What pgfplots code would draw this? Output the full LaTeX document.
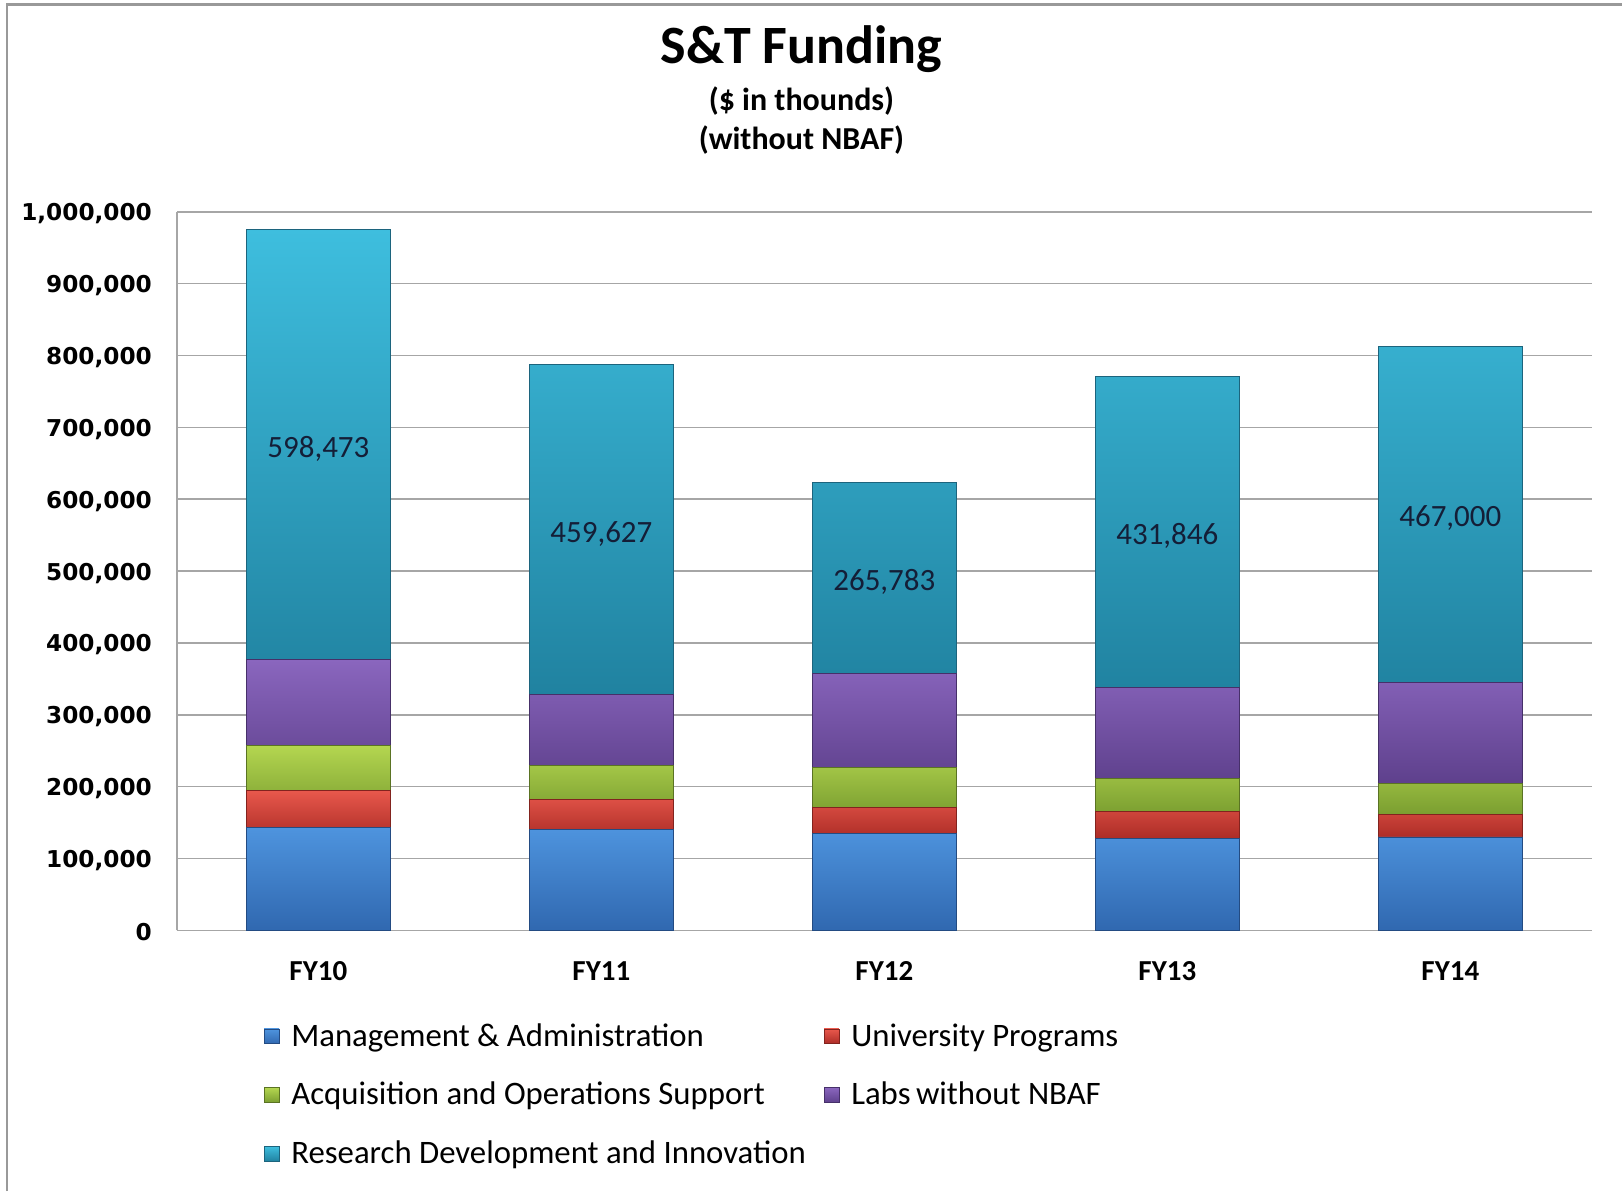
\documentclass[border=0pt]{standalone}
\usepackage{pgfplots}
\pgfplotsset{compat=1.18}
\usepackage{fontspec}
\setmainfont{Carlito}
\newfontfamily\tickfont{DejaVu Sans}
\definecolor{bluT}{RGB}{78,148,222}\definecolor{bluB}{RGB}{48,104,176}\definecolor{bluD}{RGB}{35,75,130}
\definecolor{redT}{RGB}{232,88,76}\definecolor{redB}{RGB}{172,44,38}\definecolor{redD}{RGB}{130,35,30}
\definecolor{grnT}{RGB}{180,214,80}\definecolor{grnB}{RGB}{122,158,48}\definecolor{grnD}{RGB}{90,115,35}
\definecolor{purT}{RGB}{138,102,190}\definecolor{purB}{RGB}{94,64,140}\definecolor{purD}{RGB}{70,48,105}
\definecolor{cyaT}{RGB}{62,190,222}\definecolor{cyaB}{RGB}{32,130,160}\definecolor{cyaD}{RGB}{28,100,125}
\definecolor{lbl}{RGB}{20,30,55}
\begin{document}
\begin{tikzpicture}
\path (0,0) rectangle (811.5pt,-596pt);
\draw[gray!80, line width=1.2pt] (3.6pt,-596pt) -- (3.6pt,-2.2pt) -- (811.5pt,-2.2pt);
\node[font=\bfseries\fontsize{27}{30}\selectfont] at (401pt,-24.5pt) {S\&T Funding};
\node[font=\bfseries\fontsize{16}{18}\selectfont] at (401pt,-50.5pt) {(\$ in thounds)};
\node[font=\bfseries\fontsize{16}{18}\selectfont] at (401pt,-70pt) {(without NBAF)};
\begin{axis}[
  at={(88.5pt,-465.5pt)}, anchor=south west,
  scale only axis, width=708pt, height=359.5pt,
  ybar stacked, bar width=0.51,
  xmin=-0.5, xmax=4.5, ymin=0, ymax=1000000,
  xtick={0,1,2,3,4}, xticklabels={FY10,FY11,FY12,FY13,FY14},
  ytick distance=100000,
  scaled y ticks=false,
  yticklabel style={/pgf/number format/fixed, /pgf/number format/1000 sep={,}, /pgf/number format/assume math mode=true,
     font=\tickfont\bfseries\fontsize{11.6}{13}\selectfont, xshift=-9pt, yshift=-1pt},
  xticklabel style={font=\bfseries\fontsize{14.5}{17}\selectfont, yshift=-12pt},
  axis x line*=bottom, axis y line*=left,
  axis line style={gray!70, line width=0.8pt, -},
  major tick length=0pt,
  ymajorgrids, grid style={gray!70, line width=0.8pt},
  legend columns=2,
  legend cell align=left,
  legend style={at={(axis description cs:0.057,-0.118)}, anchor=north west, draw=none, fill=none,
     font=\fontsize{16.4}{19}\selectfont, row sep=12.5pt,
     /tikz/every odd column/.append style={column sep=4pt},
     /tikz/every even column/.append style={column sep=7pt}},
  legend image code/.code={\draw[#1, line width=0.3pt] (0pt,-3.7pt) rectangle (7.4pt,3.7pt);},
]
\addplot[top color=bluT, bottom color=bluB, draw=bluD] coordinates {(0,143800) (1,140500) (2,134500) (3,127500) (4,129900)};
\addlegendentry{Management \& Administration}
\addplot[top color=redT, bottom color=redB, draw=redD] coordinates {(0,50900) (1,41700) (2,37100) (3,38500) (4,31100)};
\addlegendentry{University Programs}
\addplot[top color=grnT, bottom color=grnB, draw=grnD] coordinates {(0,62600) (1,47300) (2,54700) (3,45000) (4,43000)};
\addlegendentry{Acquisition and Operations Support}
\addplot[top color=purT, bottom color=purB, draw=purD] coordinates {(0,119200) (1,98300) (2,130700) (3,127500) (4,141500)};
\addlegendentry{Labs\,without NBAF}
\addplot[top color=cyaT, bottom color=cyaB, draw=cyaD] coordinates {(0,598473) (1,459627) (2,265783) (3,431846) (4,467000)};
\addlegendentry{Research Development and Innovation}
\coordinate (L0) at (axis cs:0,675736);
\coordinate (L1) at (axis cs:1,557600);
\coordinate (L2) at (axis cs:2,489900);
\coordinate (L3) at (axis cs:3,554700);
\coordinate (L4) at (axis cs:4,579000);
\end{axis}
\foreach \p/\t in {L0/{598,473}, L1/{459,627}, L2/{265,783}, L3/{431,846}, L4/{467,000}}
  \node[font=\fontsize{15.5}{18}\selectfont, text=lbl, yshift=-2pt] at (\p) {\t};
\end{tikzpicture}
\end{document}
